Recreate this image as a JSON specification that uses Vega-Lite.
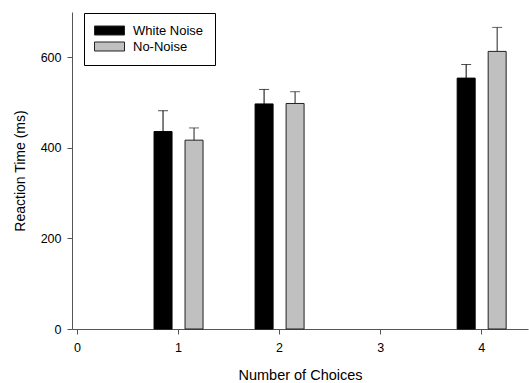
{
  "$schema": "https://vega.github.io/schema/vega-lite/v6.json",
  "width": 456,
  "height": 317,
  "autosize": {"type": "none"},
  "padding": {"left": 72, "top": 12, "right": 1, "bottom": 54},
  "config": {
    "view": {"stroke": null},
    "font": "Liberation Sans",
    "axis": {
      "grid": false,
      "domainColor": "#555555",
      "tickColor": "#555555",
      "tickSize": 5,
      "labelColor": "#000000",
      "labelFontSize": 12.5,
      "titleFontSize": 14.5,
      "titleFontWeight": "normal",
      "titleColor": "#000000"
    }
  },
  "data": {
    "values": [
      {"choices": 1, "condition": "White Noise", "rt": 436, "upper": 482},
      {"choices": 1, "condition": "No-Noise", "rt": 417, "upper": 444},
      {"choices": 2, "condition": "White Noise", "rt": 497, "upper": 529},
      {"choices": 2, "condition": "No-Noise", "rt": 498, "upper": 524},
      {"choices": 4, "condition": "White Noise", "rt": 554, "upper": 584},
      {"choices": 4, "condition": "No-Noise", "rt": 613, "upper": 666}
    ]
  },
  "encoding": {
    "x": {
      "field": "choices",
      "type": "quantitative",
      "scale": {"domain": [0, 4.414], "nice": false},
      "axis": {"values": [0, 1, 2, 3, 4], "labelFlush": false, "title": "Number of Choices", "titlePadding": 15, "labelPadding": 7}
    },
    "y": {
      "field": "rt",
      "type": "quantitative",
      "scale": {"domain": [0, 700], "nice": false},
      "axis": {"values": [0, 200, 400, 600], "labelFlush": false, "title": "Reaction Time (ms)", "titleFontSize": 14, "titlePadding": 13, "labelPadding": 6}
    }
  },
  "layer": [
    {
      "transform": [{"filter": "datum.condition === 'White Noise'"}],
      "mark": {"type": "rule", "xOffset": -15, "color": "#000000", "strokeWidth": 1},
      "encoding": {"y": {"field": "rt", "type": "quantitative"}, "y2": {"field": "upper"}}
    },
    {
      "transform": [{"filter": "datum.condition === 'White Noise'"}],
      "mark": {"type": "tick", "orient": "horizontal", "xOffset": -15, "size": 10, "thickness": 1, "color": "#000000"},
      "encoding": {"y": {"field": "upper", "type": "quantitative"}}
    },
    {
      "transform": [{"filter": "datum.condition === 'No-Noise'"}],
      "mark": {"type": "rule", "xOffset": 16, "color": "#222222", "strokeWidth": 1},
      "encoding": {"y": {"field": "rt", "type": "quantitative"}, "y2": {"field": "upper"}}
    },
    {
      "transform": [{"filter": "datum.condition === 'No-Noise'"}],
      "mark": {"type": "tick", "orient": "horizontal", "xOffset": 16, "size": 10, "thickness": 1, "color": "#222222"},
      "encoding": {"y": {"field": "upper", "type": "quantitative"}}
    },
    {
      "transform": [{"filter": "datum.condition === 'White Noise'"}],
      "mark": {"type": "bar", "xOffset": -15, "width": 18, "stroke": "#000000", "strokeWidth": 1},
      "encoding": {
        "color": {
          "field": "condition",
          "type": "nominal",
          "scale": {"domain": ["White Noise", "No-Noise"], "range": ["#000000", "#c0c0c0"]},
          "legend": {
            "title": null,
            "orient": "none",
            "legendX": 12,
            "legendY": 1,
            "strokeColor": "#000000",
            "fillColor": "#ffffff",
            "padding": 11,
            "symbolOffset": 8,
            "symbolType": "M-3,-0.9H3V0.9H-3Z",
            "symbolSize": 100,
            "symbolStrokeColor": "#000000",
            "symbolStrokeWidth": 1,
            "labelOffset": 17,
            "labelFontSize": 13,
            "labelColor": "#000000",
            "rowPadding": 2
          }
        }
      }
    },
    {
      "transform": [{"filter": "datum.condition === 'No-Noise'"}],
      "mark": {"type": "bar", "xOffset": 16, "width": 18, "stroke": "#222222", "strokeWidth": 1},
      "encoding": {
        "color": {"field": "condition", "type": "nominal"}
      }
    }
  ]
}
